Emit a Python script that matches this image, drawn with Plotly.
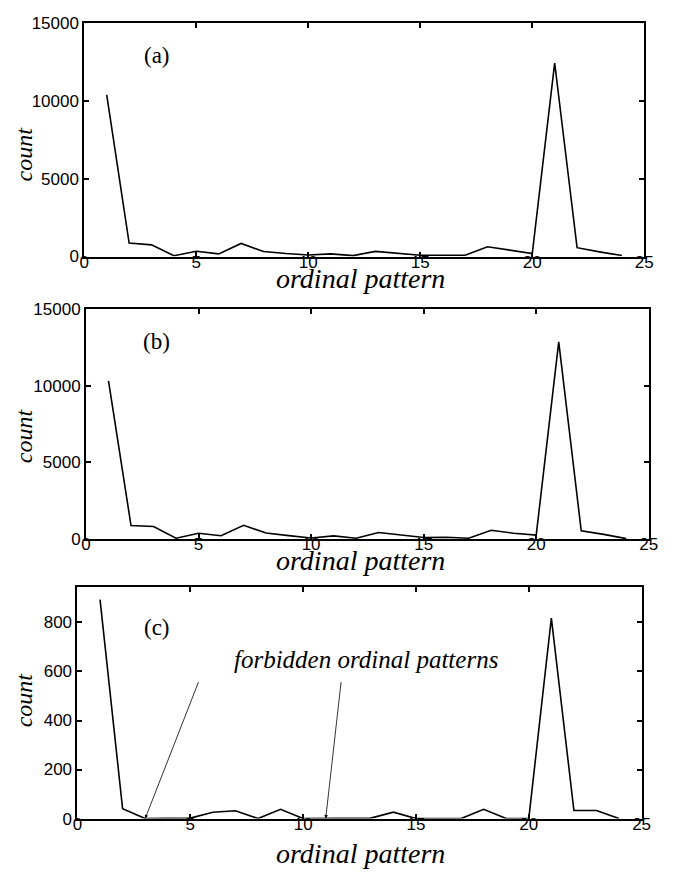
import plotly.graph_objects as go

patterns = list(range(1, 25))
count_a = [10400, 870, 750, 50, 340, 170, 840, 320, 190, 100, 170, 60,
           330, 200, 80, 80, 80, 630, 400, 190, 12450, 570, 300, 60]
count_b = [10300, 875, 810, 50, 370, 210, 890, 390, 220, 60, 200, 50,
           420, 260, 100, 110, 50, 570, 370, 250, 12850, 530, 300, 20]
count_c = [893, 40, 0, 0, 2, 26, 32, 0, 38, 0, 0, 0,
           2, 26, 0, 0, 0, 38, 0, 0, 818, 33, 33, 0]

x_ticks = [0, 5, 10, 15, 20, 25]
y_ticks_ab = [0, 5000, 10000, 15000]
y_ticks_c = [0, 200, 400, 600, 800]

W, H = 680, 877
def px(v):
    return v / W
def py(v):
    return 1 - v / H

panels = [
    dict(x=count_a, xd=[px(81), px(652.7)], yd=[py(253), py(14.7)], yr=[0, 15000], yt=y_ticks_ab,
         lab="(a)", laby=48, titley=275, county=148),
    dict(x=count_b, xd=[px(82.7), px(657.3)], yd=[py(541.7), py(306.5)], yr=[0, 15000], yt=y_ticks_ab,
         lab="(b)", laby=340, titley=564, county=436),
    dict(x=count_c, xd=[px(74), px(650)], yd=[py(827.5), py(590.7)], yr=[0, 945], yt=y_ticks_c,
         lab="(c)", laby=632, titley=863, county=706),
]

fig = go.Figure()
tick_font = dict(family="Liberation Sans, Arial, sans-serif", size=17, color="black")
serif = "Liberation Serif, Times New Roman, serif"
annotations = []
for i, p in enumerate(panels, start=1):
    xa = "x" if i == 1 else f"x{i}"
    ya = "y" if i == 1 else f"y{i}"
    fig.add_trace(go.Scatter(x=patterns, y=p["x"], mode="lines",
                             line=dict(color="black", width=1.6),
                             xaxis=xa, yaxis=ya, showlegend=False))
    axcommon = dict(showline=True, linecolor="black", linewidth=2, mirror="ticks",
                    ticks="inside", ticklen=5, tickwidth=1.5, tickcolor="black",
                    showgrid=False, zeroline=False, tickfont=tick_font)
    fig.layout[("xaxis" if i == 1 else f"xaxis{i}")] = dict(
        domain=p["xd"], range=[0, 25], tickvals=x_ticks,
        ticktext=[str(v) for v in x_ticks], ticklabelstandoff=-11, anchor=ya, **axcommon)
    fig.layout[("yaxis" if i == 1 else f"yaxis{i}")] = dict(
        domain=p["yd"], range=p["yr"], tickvals=p["yt"],
        ticktext=[str(v) for v in p["yt"]], anchor=xa, **axcommon)
    annotations.append(dict(text=p["lab"], x=px(155), y=py(p["laby"]), xref="paper", yref="paper",
                            showarrow=False, xanchor="center", yanchor="middle",
                            font=dict(family=serif, size=23, color="black")))
    annotations.append(dict(text="<i>ordinal pattern</i>", x=px(363), y=py(p["titley"]),
                            xref="paper", yref="paper", showarrow=False,
                            xanchor="center", yanchor="middle",
                            font=dict(family=serif, size=28, color="black")))
    annotations.append(dict(text="<i>count</i>", x=px(19), y=py(p["county"]),
                            xref="paper", yref="paper", showarrow=False, textangle=-90,
                            xanchor="center", yanchor="middle",
                            font=dict(family=serif, size=24, color="black")))

annotations.append(dict(text="<i>forbidden ordinal patterns</i>", x=px(369), y=py(665),
                        xref="paper", yref="paper", showarrow=False,
                        xanchor="center", yanchor="middle",
                        font=dict(family=serif, size=25, color="black")))
for head_x, tail_px in [(3, (197, 690)), (11, (343, 690))]:
    head_px_x = 74 + head_x * (576 / 25)
    annotations.append(dict(text="", x=head_x, y=0, xref="x3", yref="y3",
                            showarrow=True, arrowhead=2, arrowsize=0.9, arrowwidth=0.8,
                            arrowcolor="black", standoff=0,
                            ax=tail_px[0] - head_px_x, ay=tail_px[1] - 828))

fig.update_layout(width=W, height=H, margin=dict(l=0, r=0, t=0, b=0),
                  paper_bgcolor="white", plot_bgcolor="white",
                  annotations=annotations)
fig.write_html("out.html")
